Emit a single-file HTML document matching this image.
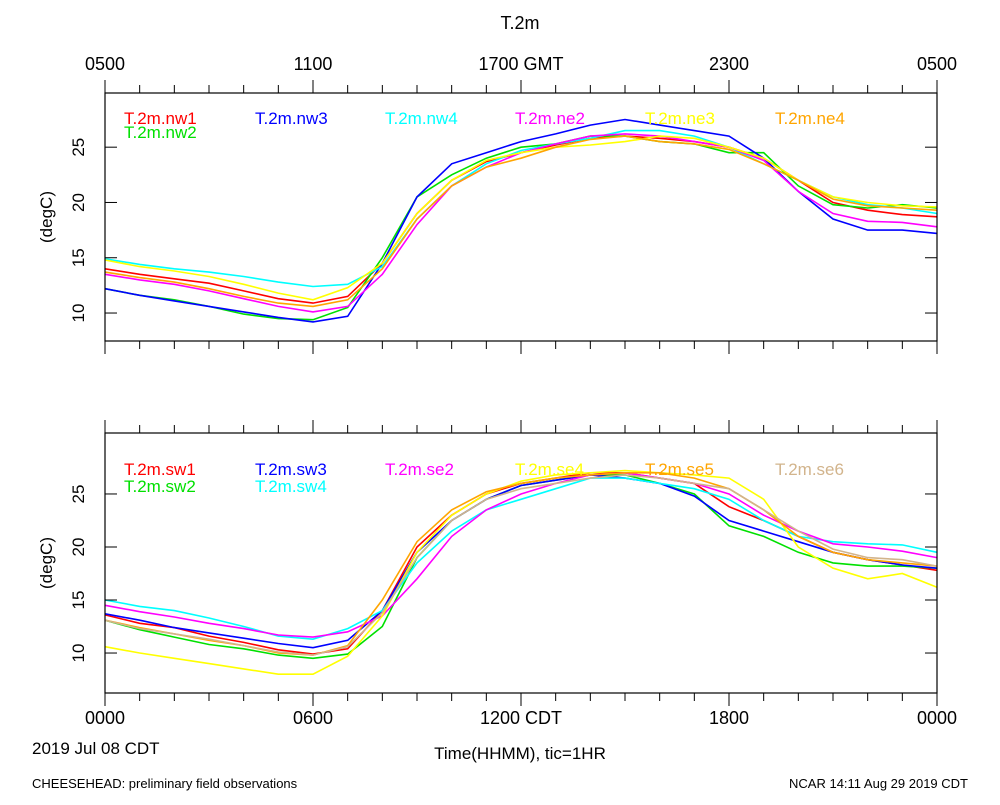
<!DOCTYPE html>
<html><head><meta charset="utf-8"><style>
body{margin:0;background:#fff}
text{font-family:"Liberation Sans",sans-serif}
</style></head><body>
<svg id="c" width="1000" height="800" xmlns="http://www.w3.org/2000/svg">
<text x="520" y="29" font-size="18" text-anchor="middle">T.2m</text>
<text x="32" y="754" font-size="17">2019 Jul 08 CDT</text>
<text x="520" y="759" font-size="17" text-anchor="middle">Time(HHMM), tic=1HR</text>
<text x="32" y="788" font-size="13">CHEESEHEAD: preliminary field observations</text>
<text x="968" y="788" font-size="13" text-anchor="end">NCAR 14:11 Aug 29 2019 CDT</text>
<g id="g"></g>
</svg>
<script>
const hours=[0,1,2,3,4,5,6,7,8,9,10,11,12,13,14,15,16,17,18,19,20,21,22,23,24];
const topTickLabels=["0500","1100","1700 GMT","2300","0500"];
const botTickLabels=["0000","0600","1200 CDT","1800","0000"];
const yTicks=[10,15,20,25];
const nw1=[14.0,13.5,13.1,12.7,12.0,11.3,10.9,11.5,14.5,19,22,23.7,24.5,25.2,25.8,26,25.8,25.5,25,24,22,20,19.3,18.9,18.7];
const nw2=[12.2,11.6,11.2,10.6,9.9,9.5,9.4,10.5,15,20.5,22.5,24,25,25.3,26,26,25.5,25.3,24.5,24.5,21.5,19.8,19.5,19.8,19.5];
const nw3=[12.2,11.6,11.1,10.6,10.1,9.6,9.2,9.7,14.5,20.5,23.5,24.5,25.5,26.2,27,27.5,27,26.5,26,24,21,18.5,17.5,17.5,17.2];
const nw4=[14.9,14.4,14.0,13.7,13.3,12.8,12.4,12.6,14.2,18.5,21.5,23.5,24.7,25.3,25.8,26.5,26.5,26,25,23.5,22,20.5,19.8,19.5,19.0];
const ne2=[13.5,13.0,12.6,12.0,11.3,10.6,10.1,10.6,13.5,18,21.5,23.2,24.5,25.3,26,26.2,26,25.5,25,23.8,21,19,18.3,18.2,17.8];
const ne3=[14.8,14.2,13.8,13.3,12.6,11.8,11.2,12.3,14.5,19,22,23.8,24.5,25,25.2,25.5,26,25.8,25,24,22,20.5,20,19.7,19.6];
const ne4=[13.7,13.2,12.8,12.2,11.5,10.9,10.6,11.2,14,18.5,21.5,23.2,24,25,25.7,26,25.5,25.3,24.8,23.5,22,20.3,19.7,19.5,19.3];
const sw1=[13.6,12.8,12.4,11.6,11.0,10.3,9.9,10.4,14,20,23,25,26,26.5,27,27,26.5,26,23.8,22.5,21,19.5,18.8,18.3,17.8];
const sw2=[13.1,12.2,11.5,10.8,10.4,9.8,9.5,9.9,12.5,19,22.5,24.5,25.8,26.3,26.8,26.8,26,25,22,21,19.5,18.5,18.2,18.2,18.0];
const sw3=[13.7,13.1,12.4,11.9,11.4,10.9,10.5,11.2,14,19.5,22.5,24.5,25.8,26.3,26.8,26.5,26,24.8,22.5,21.5,20.5,19.5,18.8,18.3,18.0];
const sw4=[15.0,14.4,14.0,13.3,12.5,11.6,11.3,12.3,14,18.5,21.5,23.5,24.5,25.5,26.5,26.5,26,25.5,24.5,22.5,21,20.5,20.3,20.2,19.5];
const se2=[14.5,13.9,13.4,12.8,12.3,11.7,11.5,12.0,13.5,17,21,23.5,25,26,26.8,27,26.5,26,25,23,21.5,20.3,20,19.6,19.0];
const se4=[10.6,10.0,9.5,9.0,8.5,8.0,8.0,9.7,13.5,19.5,23,25,26.2,26.8,27,27.2,27,26.8,26.5,24.5,20,18,17,17.5,16.2];
const se5=[13.1,12.4,11.8,11.2,10.7,10.0,9.8,10.7,15,20.5,23.5,25.2,26,26.5,26.8,27,27,26.5,25.5,23.5,21,19.5,18.8,18.5,18.2];
const se6=[13.1,12.3,11.8,11.3,10.7,10.1,9.8,10.6,13.8,19,22.5,24.5,25.5,26,26.5,26.8,26.5,26,25.5,23.5,21.5,19.8,19,18.8,18.2];

const NS="http://www.w3.org/2000/svg";
const G=document.getElementById('g');
function mk(t,a,p){const e=document.createElementNS(NS,t);for(const k in a)e.setAttribute(k,a[k]);(p||G).appendChild(e);return e;}
const X0=105,X1=937;
const xs=h=>X0+(X1-X0)*h/24;
const panels=[
 {name:'top',y0:93,y1:341,v0:7.47,v1:29.9,labels:topTickLabels,labY:70,series:[
  ['T.2m.nw1',nw1,'#ff0000',124,124],['T.2m.nw2',nw2,'#00e000',124,138],['T.2m.nw3',nw3,'#0000ff',255,124],
  ['T.2m.nw4',nw4,'#00ffff',385,124],['T.2m.ne2',ne2,'#ff00ff',515,124],['T.2m.ne3',ne3,'#ffff00',645,124],['T.2m.ne4',ne4,'#ffa500',775,124]]},
 {name:'bottom',y0:433,y1:693,v0:6.23,v1:30.75,labels:botTickLabels,labY:724,series:[
  ['T.2m.sw1',sw1,'#ff0000',124,475],['T.2m.sw2',sw2,'#00e000',124,492],['T.2m.sw3',sw3,'#0000ff',255,475],['T.2m.sw4',sw4,'#00ffff',255,492],
  ['T.2m.se2',se2,'#ff00ff',385,475],['T.2m.se4',se4,'#ffff00',515,475],['T.2m.se5',se5,'#ffa500',645,475],['T.2m.se6',se6,'#d2b48c',775,475]]}
];
panels.forEach(P=>{
 const ys=v=>P.y1-(P.y1-P.y0)*(v-P.v0)/(P.v1-P.v0);
 const pg=mk('g',{});
 
 
 P.series.forEach(s=>{
  const d=s[1].map((v,i)=>(i?'L':'M')+xs(hours[i]).toFixed(1)+','+ys(v).toFixed(1)).join('');
  const pa=mk('path',{d:d,fill:'none',stroke:s[2],'stroke-width':1.6},pg);
  
  
  const t=mk('text',{x:s[3],y:s[4],fill:s[2],'font-size':17},pg);
  t.textContent=s[0];
  
  
 });
 const fr=mk('rect',{x:X0,y:P.y0,width:X1-X0,height:P.y1-P.y0,fill:'none',stroke:'#000','stroke-width':1.2},pg);
 
 
 hours.forEach(h=>{
  const maj=h%6===0, x=xs(h);
  mk('line',{x1:x,x2:x,y1:P.y0,y2:P.y0-(maj?13:8),stroke:'#000'},pg);
  mk('line',{x1:x,x2:x,y1:P.y1,y2:P.y1+(maj?13:8),stroke:'#000'},pg);
 });
 P.labels.forEach((l,i)=>{
  const t=mk('text',{x:xs(i*6),y:P.labY,'font-size':18,'text-anchor':'middle'},pg);
  t.textContent=l;
  
  
 });
 yTicks.forEach(v=>{
  const y=ys(v);
  mk('line',{x1:X0,x2:X0+12,y1:y,y2:y,stroke:'#000'},pg);
  mk('line',{x1:X1,x2:X1-12,y1:y,y2:y,stroke:'#000'},pg);
  const t=mk('text',{x:84,y:y,'font-size':17,'text-anchor':'middle',transform:'rotate(-90 84 '+y.toFixed(1)+')'},pg);
  t.textContent=v;
  
  
 });
 const cy=(P.y0+P.y1)/2;
 const yt=mk('text',{x:52,y:cy,'font-size':17,'text-anchor':'middle',transform:'rotate(-90 52 '+cy+')'},pg);
 yt.textContent='(degC)';
 
 
});
</script>
</body></html>
